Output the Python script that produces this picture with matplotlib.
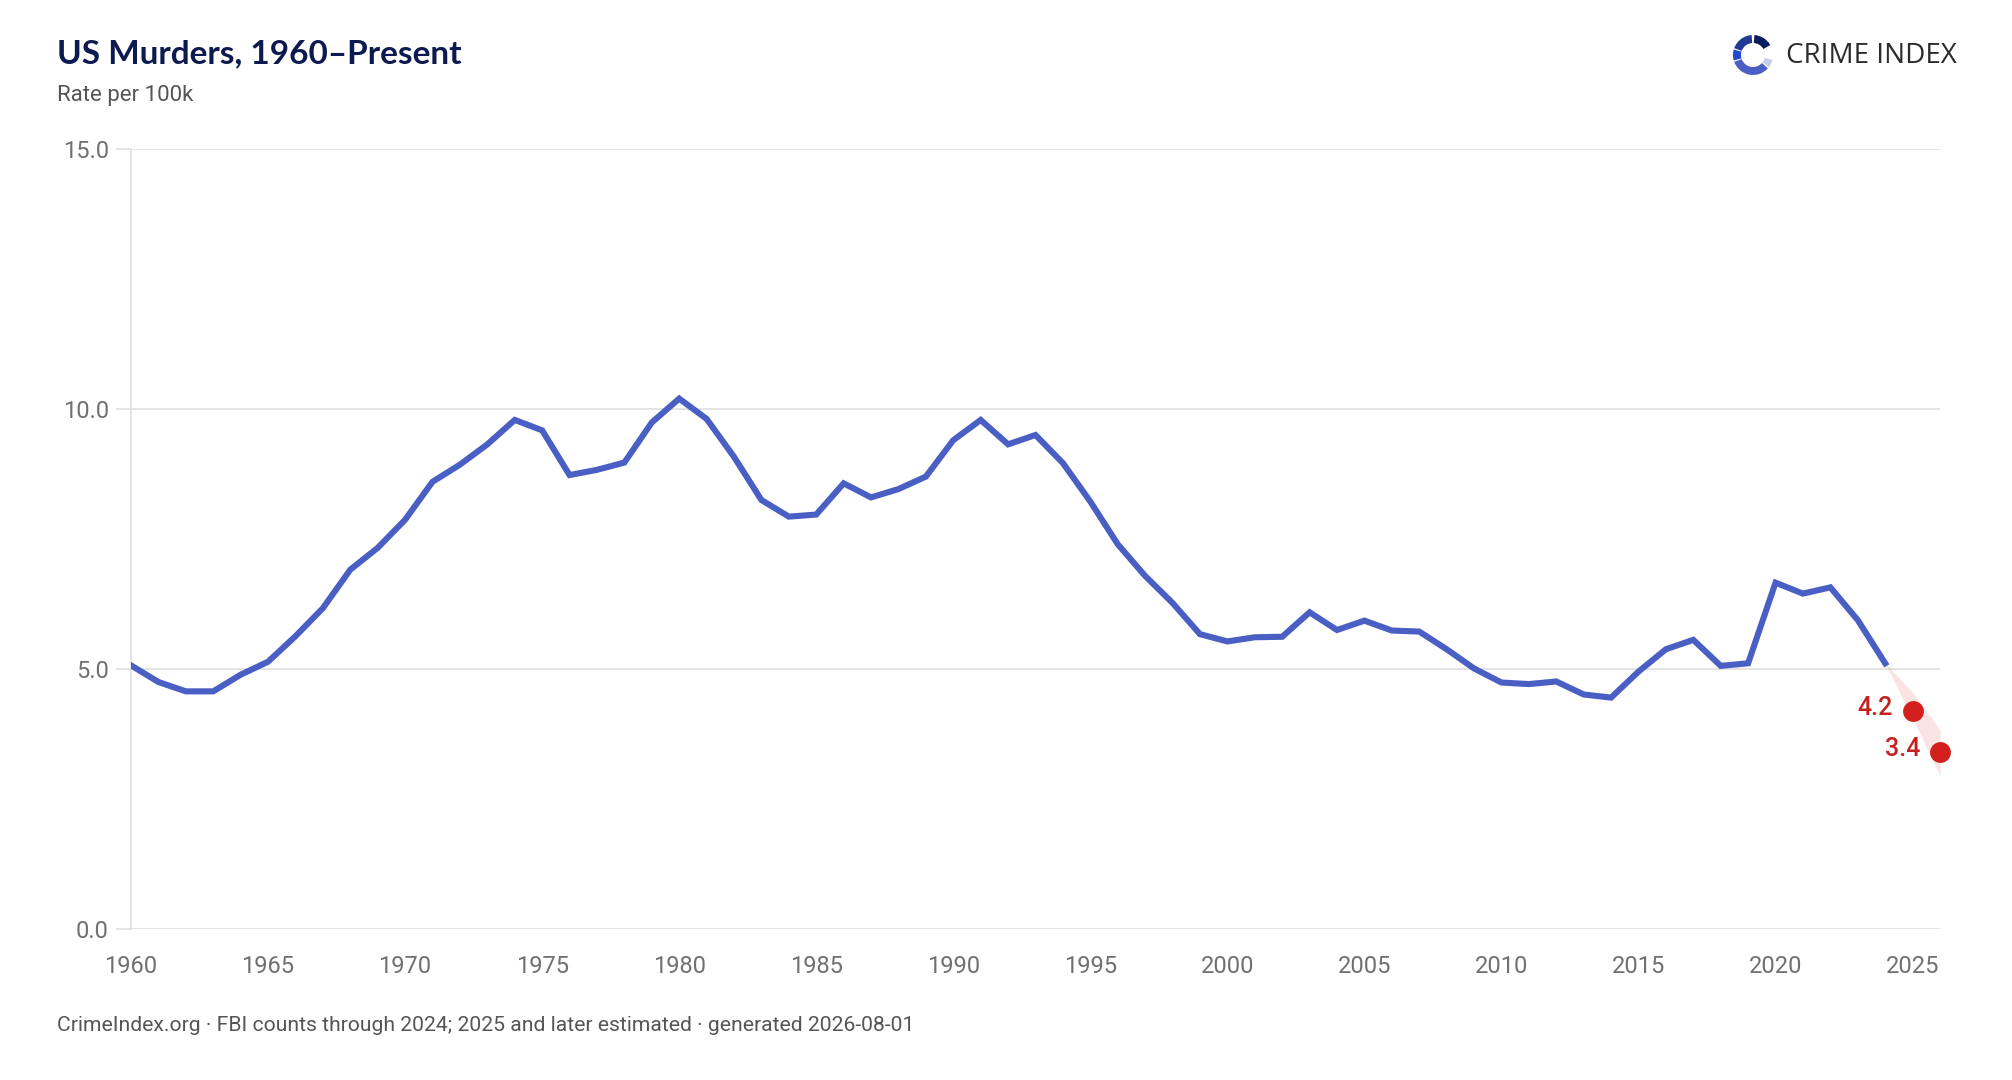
import matplotlib
matplotlib.use("Agg")
import matplotlib.pyplot as plt
from matplotlib.patches import Wedge
import numpy as np

# Murder rate per 100k, FBI counts 1960-2024
years = list(range(1960, 2025))
rates = [5.07, 4.75, 4.57, 4.57, 4.89, 5.14, 5.63, 6.17, 6.91, 7.33,
         7.87, 8.60, 8.93, 9.32, 9.79, 9.59, 8.73, 8.83, 8.97, 9.74,
         10.20, 9.81, 9.08, 8.25, 7.93, 7.97, 8.57, 8.30, 8.46, 8.70,
         9.40, 9.79, 9.32, 9.50, 8.96, 8.22, 7.40, 6.79, 6.27, 5.67,
         5.53, 5.61, 5.62, 6.09, 5.75, 5.93, 5.74, 5.72, 5.38, 5.01,
         4.74, 4.71, 4.76, 4.51, 4.45, 4.95, 5.38, 5.56, 5.06, 5.11,
         6.66, 6.45, 6.57, 5.94, 5.11]

# estimates
est_years = [2025, 2026]
est_rates = [4.2, 3.4]
est_labels = ["4.2", "3.4"]
band_years = [2024, 2025, 2026]
band_lo = [5.11, 4.05, 2.95]
band_hi = [5.11, 4.55, 3.83]

xticks = list(range(1960, 2026, 5))
yticks = [0, 5, 10, 15]

LINE = "#4a5fc4"
RED = "#d41f1f"
GRID = "#e2e2e2"

fig = plt.figure(figsize=(20.12, 10.8), dpi=100)
ax = fig.add_axes([131 / 2012, 1 - 929 / 1080, (1940 - 131) / 2012, (929 - 149) / 1080])

ax.fill_between(band_years, band_lo, band_hi, color=RED, alpha=0.12, lw=0, zorder=2)
ax.plot(years, rates, color=LINE, lw=4.4, solid_joinstyle="miter", zorder=3)
ax.plot(est_years, est_rates, "o", color=RED, ms=15, mec="none", zorder=4, clip_on=False)
for x, y, t in zip(est_years, est_rates, est_labels):
    ax.annotate(t, (x, y), xytext=(-14, 2), textcoords="offset points",
                ha="right", va="center", color="#c42020", fontsize=18,
                fontweight="medium", family="Roboto")

ax.set_xlim(1960, 2026)
ax.set_ylim(0, 15)
ax.set_xticks(xticks)
ax.set_yticks(yticks)
ax.set_yticklabels([f"{v:.1f}" for v in yticks])
ax.grid(axis="y", color=GRID, lw=1.3)
ax.set_axisbelow(True)
for s in ["top", "right", "bottom"]:
    ax.spines[s].set_visible(False)
ax.spines["left"].set_color(GRID)
ax.spines["left"].set_linewidth(1.3)
ax.tick_params(axis="y", length=11, width=1.3, color=GRID, pad=5,
               labelsize=17, labelcolor="#707070")
ax.tick_params(axis="x", length=0, pad=19, labelsize=17, labelcolor="#707070")
for lab in ax.get_xticklabels() + ax.get_yticklabels():
    lab.set_family("Roboto")

# titles
fig.text(57 / 2012, 1 - 63 / 1080, "US Murders, 1960\u2013Present", fontsize=24,
         fontweight="bold", color="#0c1a4f", family="Lato", va="baseline")
fig.text(57 / 2012, 1 - 101 / 1080, "Rate per 100k", fontsize=16,
         color="#555555", family="Roboto", va="baseline")
fig.text(57 / 2012, 1 - 1031 / 1080,
         "CrimeIndex.org \u00b7 FBI counts through 2024; 2025 and later estimated \u00b7 generated 2026-08-01",
         fontsize=15.2, color="#555555", family="Roboto", va="baseline")

# logo
lax = fig.add_axes([1728 / 2012, 1 - 80 / 1080, 50 / 2012, 50 / 1080])
lax.set_xlim(-25, 25)
lax.set_ylim(-25, 25)
lax.axis("off")
segs = [(30, 86, "#0b1d5a"), (94, 160, "#213a92"), (164, 196, "#1e47d2"),
        (200, 318, "#4a5fc4"), (322, 346, "#c5cdef")]
for a0, a1, c in segs:
    lax.add_patch(Wedge((0, 0), 20, a0, a1, width=8, color=c, lw=0))
fig.text(1786 / 2012, 1 - 63 / 1080, "CRIME INDEX", fontsize=20, color="#2b2b2b",
         family="Open Sans", va="baseline")

fig.savefig("out.png", dpi=100, facecolor="white")
